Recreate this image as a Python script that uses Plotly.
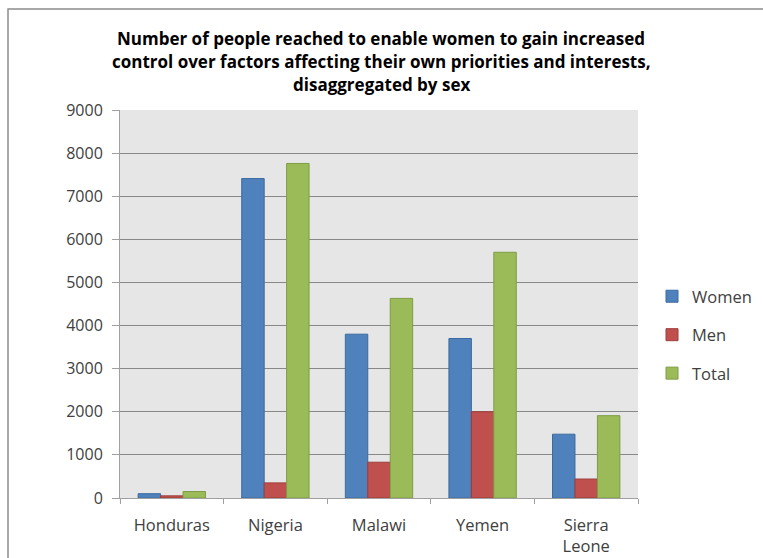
import plotly.graph_objects as go

# Reach figures by country, split by sex
countries = ["Honduras", "Nigeria", "Malawi", "Yemen", "Sierra<br>Leone"]
women = [100, 7410, 3800, 3700, 1480]
men = [50, 350, 830, 2000, 440]
total = [150, 7760, 4630, 5700, 1910]

y_ticks = [0, 1000, 2000, 3000, 4000, 5000, 6000, 7000, 8000, 9000]

title_lines = [
    "Number of people reached to enable women to gain increased",
    "control over factors affecting their own priorities and interests,",
    "disaggregated by sex",
]

W, H = 763, 558
L, R, T, B = 120, 125, 110, 60
PW, PH = W - L - R, H - T - B

series = [
    ("Women", women, "#4F81BD", "#3C6A9F"),
    ("Men", men, "#C0504D", "#9E3D3A"),
    ("Total", total, "#9BBB59", "#7E9C44"),
]

FONT = "Open Sans"


def px_x(px):
    return (px - L) / PW


def px_y(py):
    return (H - B - py) / PH


fig = go.Figure()
for name, vals, fill, edge in series:
    fig.add_trace(go.Bar(
        name=name, x=countries, y=vals,
        marker=dict(color=fill, line=dict(color=edge, width=1)),
        legendgroup=name,
    ))

fig.update_layout(
    width=W, height=H,
    margin=dict(l=L, r=R, t=T, b=B, pad=0, autoexpand=False),
    paper_bgcolor="white",
    plot_bgcolor="#E6E6E6",
    barmode="group",
    bargap=0.35,
    bargroupgap=0,
    font=dict(family=FONT, size=16, color="#404040"),
    legend=dict(
        x=px_x(652), y=px_y(335),
        xanchor="left", yanchor="middle",
        font=dict(size=16.5, color="#404040"),
        traceorder="grouped", tracegroupgap=14,
        bgcolor="rgba(0,0,0,0)",
        itemwidth=30,
    ),
    showlegend=True,
)

fig.update_yaxes(
    range=[0, 9000], tickvals=y_ticks,
    showgrid=True, gridcolor="#888888", gridwidth=1,
    showline=True, linecolor="#A0A0A0", linewidth=1,
    ticks="outside", ticklen=7, tickcolor="#A0A0A0",
    zeroline=False,
    tickfont=dict(size=16, color="#404040"),
    ticklabelstandoff=6,
)
fig.update_xaxes(
    showline=True, linecolor="#A0A0A0", linewidth=1,
    ticks="outside", ticklen=5, tickcolor="#A0A0A0",
    tickson="boundaries",
    tickfont=dict(size=16.5, color="#404040"),
    ticklabelstandoff=12,
)

# Multi-line chart heading
for i, line in enumerate(title_lines):
    fig.add_annotation(
        text="<b>" + line + "</b>",
        xref="paper", yref="paper",
        x=px_x(381), y=px_y(38 + 23 * i),
        xanchor="center", yanchor="middle", showarrow=False,
        font=dict(family=FONT, size=17, color="#000000"),
    )

# Outer chart frame
fig.add_shape(
    type="rect", xref="paper", yref="paper",
    x0=px_x(8), x1=px_x(W + 10),
    y0=px_y(H + 10), y1=px_y(9),
    line=dict(color="#8C8C8C", width=1.5), layer="below",
)

fig.write_html("out.html")
